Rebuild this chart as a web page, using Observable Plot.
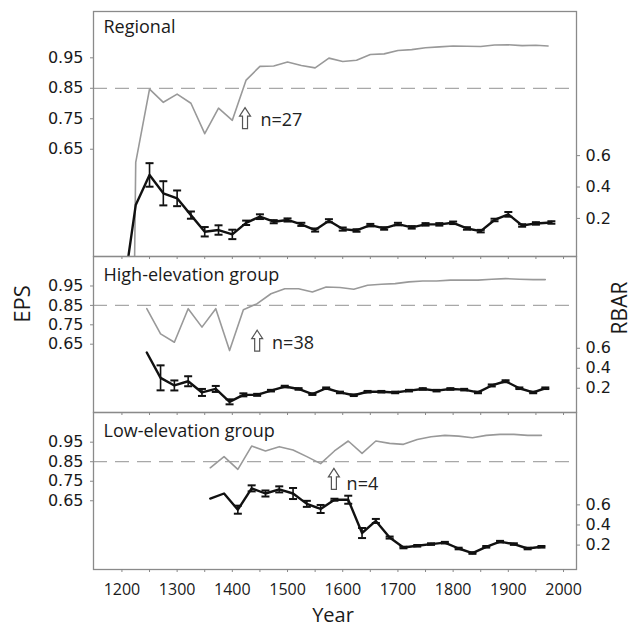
<!DOCTYPE html>
<html><head><meta charset="utf-8">
<script src="https://cdn.jsdelivr.net/npm/d3@7"></script>
<script src="https://cdn.jsdelivr.net/npm/@observablehq/plot@0.6"></script>
<style>
body{margin:0;background:#fff;}
#fig{position:relative;width:638px;height:627px;overflow:hidden;}
#fig svg{position:absolute;left:0;}
.lab{position:absolute;color:#1a1a1a;font-family:"Open Sans",sans-serif;white-space:nowrap;transform:translate(-50%,-50%);}
</style></head><body>
<div id="fig"></div>
<script>
// ---------- data ----------
const epsTicks = [0.65, 0.75, 0.85, 0.95];
const rbarTicks = [0.2, 0.4, 0.6];
const yearTicks = d3.range(1200, 2001, 50);
const epsThreshold = 0.85;

// Regional
const epsYears1 = [1223,1225,1250,1275,1300,1325,1350,1375,1400,1425,1450,1475,1500,1525,1550,1575,1600,1625,1650,1675,1700,1725,1750,1775,1800,1825,1850,1875,1900,1925,1950,1972];
const eps1 = [0.297,0.607,0.847,0.804,0.831,0.801,0.701,0.785,0.745,0.877,0.922,0.923,0.936,0.925,0.917,0.949,0.938,0.942,0.961,0.963,0.974,0.977,0.983,0.986,0.989,0.988,0.987,0.992,0.993,0.990,0.991,0.989];
const rbarYears1 = [1200,1225,1250,1275,1300,1325,1350,1375,1400,1425,1450,1475,1500,1525,1550,1575,1600,1625,1650,1675,1700,1725,1750,1775,1800,1825,1850,1875,1900,1925,1950,1978];
const rbar1 = [-0.33,0.285,0.477,0.36,0.328,0.221,0.115,0.126,0.098,0.172,0.211,0.179,0.19,0.162,0.126,0.185,0.132,0.123,0.157,0.136,0.164,0.143,0.162,0.162,0.172,0.136,0.119,0.19,0.226,0.155,0.168,0.174];
const rbarErr1 = [null,null,0.075,0.077,0.05,0.023,0.03,0.03,0.03,0.014,0.015,0.01,0.01,0.01,0.01,0.01,0.01,0.008,0.008,0.008,0.008,0.008,0.008,0.008,0.008,0.008,0.008,0.008,0.015,0.008,0.008,0.008];

// High-elevation group
const years2 = [1245,1270,1295,1320,1345,1370,1395,1420,1445,1470,1495,1520,1545,1570,1595,1620,1645,1670,1695,1720,1745,1770,1795,1820,1845,1870,1895,1920,1945,1967];
const eps2 = [0.833,0.703,0.66,0.833,0.738,0.833,0.617,0.828,0.859,0.91,0.936,0.936,0.919,0.945,0.942,0.933,0.954,0.959,0.962,0.971,0.976,0.976,0.98,0.98,0.98,0.985,0.988,0.985,0.983,0.983];
const rbar2 = [0.558,0.304,0.228,0.27,0.158,0.193,0.064,0.134,0.134,0.176,0.217,0.193,0.141,0.2,0.158,0.13,0.165,0.165,0.158,0.176,0.193,0.176,0.193,0.186,0.158,0.228,0.27,0.2,0.158,0.2];
const rbarErr2 = [null,0.125,0.05,0.05,0.035,0.03,0.025,0.015,0.01,0.008,0.008,0.008,0.008,0.008,0.008,0.008,0.008,0.008,0.008,0.008,0.008,0.008,0.008,0.008,0.008,0.01,0.01,0.008,0.008,0.008];

// Low-elevation group
const years3 = [1360,1385,1410,1435,1460,1485,1510,1535,1560,1585,1610,1635,1660,1685,1710,1735,1760,1785,1810,1835,1860,1885,1910,1935,1960];
const eps3 = [0.819,0.876,0.811,0.93,0.905,0.927,0.91,0.876,0.84,0.905,0.956,0.893,0.956,0.944,0.939,0.964,0.978,0.985,0.981,0.973,0.985,0.99,0.99,0.985,0.985];
const rbar3 = [0.662,0.713,0.552,0.764,0.713,0.754,0.713,0.61,0.559,0.651,0.651,0.32,0.44,0.275,0.176,0.193,0.21,0.224,0.166,0.121,0.183,0.234,0.21,0.166,0.183];
const rbarErr3 = [null,null,0.04,0.03,0.03,0.03,0.055,0.03,0.04,0.01,0.04,0.05,0.02,0.01,0.008,0.008,0.008,0.008,0.008,0.008,0.008,0.008,0.008,0.008,0.008];

// annotations: arrow (year, EPS) and sample-size label
const panelTitles = ["Regional", "High-elevation group", "Low-elevation group"];
const arrowYears = [1423, 1445, 1584];
const arrowEps = [0.752, 0.668, 0.762];
const noteTexts = ["n=27", "n=38", "n=4"];
const noteYears = [1451, 1472, 1607];
const noteEps = [0.745, 0.653, 0.735];

// ---------- scales ----------
const xDomain = [1148.5, 2023.5];
const epsDomain = [0.298, 1.102];
const toEps = r => 0.32 + 0.515 * r;       // RBAR secondary axis mapped onto EPS axis
const fromEps = e => (e - 0.32) / 0.515;

const capSymbol = {draw(ctx) { ctx.moveTo(-4, 0); ctx.lineTo(4, 0); }};
const upArrow = {draw(ctx) {
  ctx.moveTo(0, -10.5); ctx.lineTo(5.5, -2); ctx.lineTo(2.5, -2); ctx.lineTo(2.5, 10.5);
  ctx.lineTo(-2.5, 10.5); ctx.lineTo(-2.5, -2); ctx.lineTo(-5.5, -2); ctx.closePath();
}};

const panels = [
  {epsYears: epsYears1, eps: eps1, rbarYears: rbarYears1, rbar: rbar1, err: rbarErr1, top: 0, marginTop: 11, frameH: 245, marginBottom: 4, titleDy: 9, labels: false},
  {epsYears: years2, eps: eps2, rbarYears: years2, rbar: rbar2, err: rbarErr2, top: 256, marginTop: 0, frameH: 156, marginBottom: 4, titleDy: 12, labels: false},
  {epsYears: years3, eps: eps3, rbarYears: years3, rbar: rbar3, err: rbarErr3, top: 412, marginTop: 0, frameH: 157, marginBottom: 58, titleDy: 12, labels: true}
];

const fig = document.getElementById("fig");
panels.forEach((p, i) => {
  const epsRows = p.epsYears.map((year, j) => ({year, v: p.eps[j]}));
  const rRows = p.rbarYears.map((year, j) => ({year, r: p.rbar[j], e: p.err[j]}));
  const errRows = rRows.filter(d => d.e != null);
  const plot = Plot.plot({
    width: 638,
    height: p.marginTop + p.frameH + p.marginBottom,
    marginLeft: 93, marginRight: 62, marginTop: p.marginTop, marginBottom: p.marginBottom,
    x: {type: "linear", domain: xDomain},
    y: {domain: epsDomain},
    style: {background: "transparent", overflow: "visible", color: "#222"},
    marks: [
      Plot.ruleY([epsThreshold], {stroke: "#a8a8a8", strokeWidth: 1.3, strokeDasharray: "14,8"}),
      Plot.line(epsRows, {x: "year", y: "v", stroke: "#999", strokeWidth: 1.6, clip: true}),
      Plot.ruleX(errRows, {x: "year", y1: d => toEps(d.r - d.e), y2: d => toEps(d.r + d.e), stroke: "#111", strokeWidth: 1.6}),
      Plot.dot(errRows, {x: "year", y: d => toEps(d.r - d.e), symbol: capSymbol, stroke: "#111", strokeWidth: 2}),
      Plot.dot(errRows, {x: "year", y: d => toEps(d.r + d.e), symbol: capSymbol, stroke: "#111", strokeWidth: 2}),
      Plot.line(rRows, {x: "year", y: d => toEps(d.r), stroke: "#111", strokeWidth: 2.4, clip: true}),
      Plot.dot([0], {x: () => arrowYears[i], y: () => arrowEps[i], symbol: upArrow, fill: "white", stroke: "#555", strokeWidth: 1.2}),
      Plot.text([noteTexts[i]], {x: () => noteYears[i], y: () => noteEps[i], text: d => d, textAnchor: "start", fontSize: 18, fontFamily: "Open Sans", fill: "#222"}),
      Plot.text([panelTitles[i]], {frameAnchor: "top-left", dx: 10, dy: p.titleDy, lineAnchor: "top", textAnchor: "start", text: d => d, fontSize: 18, fontFamily: "Open Sans", fill: "#1a1a1a"}),
      Plot.frame({stroke: "#8a8a8a", strokeWidth: 1.3}),
      Plot.axisY(epsTicks, {anchor: "left", tickSize: 3, tickPadding: 7, tickFormat: d => d.toFixed(2), label: null, fontSize: 16, fontFamily: "DejaVu Sans", stroke: "#888", fill: "#1a1a1a"}),
      Plot.axisY(rbarTicks.map(toEps), {anchor: "right", tickSize: 3, tickPadding: 6, tickFormat: d => fromEps(d).toFixed(1), label: null, fontSize: 16, fontFamily: "DejaVu Sans", stroke: "#888", fill: "#1a1a1a"}),
      Plot.axisX(yearTicks, {anchor: "bottom", tickSize: 3, tickPadding: 11, label: null, tickFormat: p.labels ? (d => d % 100 === 0 ? String(d) : "") : (() => ""), fontSize: 16, fontFamily: "Open Sans", stroke: "#888", fill: "#1a1a1a"})
    ]
  });
  plot.style.top = p.top + "px";
  fig.appendChild(plot);
});

function addLabel(text, x, y, size, rot) {
  const d = document.createElement("div");
  d.className = "lab";
  d.textContent = text;
  d.style.left = x + "px"; d.style.top = y + "px"; d.style.fontSize = size + "px";
  if (rot) d.style.transform = "translate(-50%,-50%) rotate(-90deg)";
  fig.appendChild(d);
}
addLabel("EPS", 21, 304, 22, true);
addLabel("RBAR", 619, 308, 21, true);
addLabel("Year", 333, 614, 20, false);
</script></body></html>
